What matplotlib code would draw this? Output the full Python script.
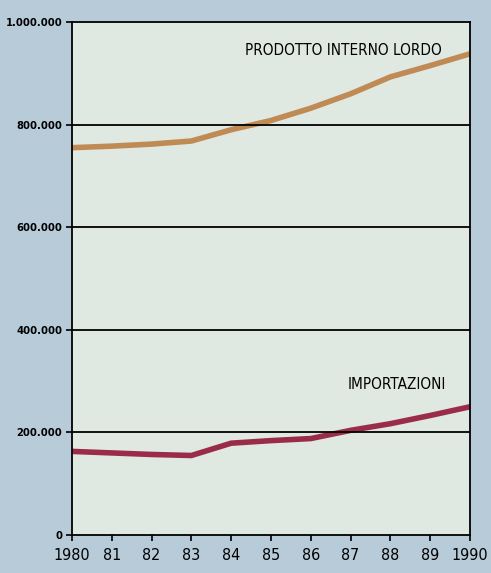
import matplotlib.pyplot as plt
from matplotlib.ticker import FuncFormatter

# dati
anni = [1980, 1981, 1982, 1983, 1984, 1985, 1986, 1987, 1988, 1989, 1990]
anni_lbl = ["1980", "81", "82", "83", "84", "85", "86", "87", "88", "89", "1990"]
pil = [755000, 758000, 762000, 768000, 790000, 808000, 832000, 860000, 893000, 915000, 938000]
importazioni = [163000, 160000, 157000, 155000, 179000, 184000, 188000, 204000, 217000, 233000, 250000]
y_ticks = [0, 200000, 400000, 600000, 800000, 1000000]

plt.rcParams['font.family'] = ['DejaVu Sans']
plt.rcParams['font.stretch'] = 'condensed'

fig = plt.figure(figsize=(4.91, 5.73), dpi=100)
fig.patch.set_facecolor('#b7cbd8')
ax = fig.add_axes([0.1466, 0.0663, 0.8106, 0.8953])
ax.set_facecolor('#dfe8e1')

ax.plot(anni, pil, color='#c08a55', lw=4, solid_capstyle='butt')
ax.plot(anni, importazioni, color='#9a2c4a', lw=4, solid_capstyle='butt')

ax.set_xlim(1980, 1990)
ax.set_ylim(0, 1000000)
ax.set_xticks(anni)
ax.set_xticklabels(anni_lbl, fontsize=11.5, fontstretch='condensed')
ax.set_yticks(y_ticks)
ax.yaxis.set_major_formatter(FuncFormatter(lambda v, p: "0" if v == 0 else f"{int(v):,}".replace(",", ".")))
for t in ax.get_yticklabels():
    t.set_fontweight('bold')
    t.set_fontsize(8)
    t.set_fontstretch('condensed')
ax.tick_params(axis='both', direction='out', length=4, width=1.2, color='black')
ax.tick_params(axis='x', pad=5)
ax.tick_params(axis='y', pad=3)

for v in y_ticks[1:-1]:
    ax.axhline(v, color='black', lw=1.3)
for s in ax.spines.values():
    s.set_color('black')
    s.set_linewidth(1.3)

ax.text(1989.3, 945000, "PRODOTTO INTERNO LORDO", ha='right', va='center',
        fontsize=11, fontstretch='condensed')
ax.text(1989.4, 293000, "IMPORTAZIONI", ha='right', va='center',
        fontsize=11, fontstretch='condensed')

fig.savefig("out.png", dpi=100, facecolor=fig.get_facecolor())
